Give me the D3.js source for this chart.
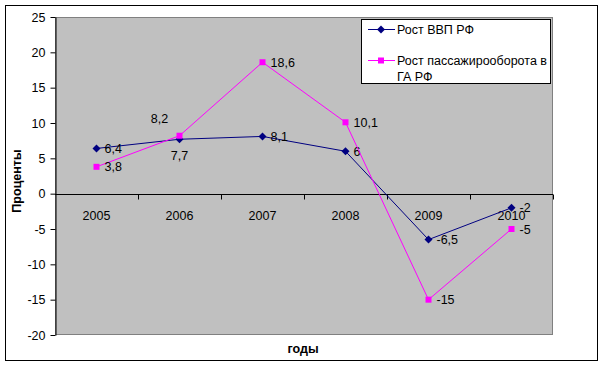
<!DOCTYPE html>
<html><head><meta charset="utf-8">
<script src="https://cdn.jsdelivr.net/npm/d3@7"></script>
<style>body{margin:0;background:#fff}svg{display:block}text{font-family:"Liberation Sans",Arial,sans-serif}</style>
</head><body><svg id="c" width="605" height="367"></svg>
<script>
const years = ["2005","2006","2007","2008","2009","2010"];
const gdp = [6.4, 7.7, 8.1, 6, -6.5, -2];
const pax = [3.8, 8.2, 18.6, 10.1, -15, -5];
const gdpLabelPos = ["r","b","r","r","r","r"];
const paxLabelPos = ["r","tl","r","r","r","r"];
const yTicks = [-20,-15,-10,-5,0,5,10,15,20,25];
const seriesNames = ["Рост ВВП РФ", ["Рост пассажирооборота в","ГА РФ"]];

const svg = d3.select("#c");
const L=55, R=553, T=17, B=335;
svg.append("rect").attr("x",5.5).attr("y",5.5).attr("width",592).attr("height",355).attr("fill","#fff").attr("stroke","#000");
svg.append("rect").attr("x",L+0.5).attr("y",T+0.5).attr("width",R-L-1).attr("height",B-T-1).attr("fill","#C0C0C0").attr("stroke","#808080");

const x = d3.scaleBand().domain(years).range([L,R]);
const y = d3.scaleLinear().domain([-20,25]).range([B,T]);
const cx = d => x(d)+x.bandwidth()/2;

// y axis
const ya = svg.append("g").attr("transform",`translate(${L+0.5},0)`)
  .call(d3.axisLeft(y).tickValues(yTicks).tickSize(5).tickSizeOuter(0).tickFormat(d=>d));
ya.select(".domain").attr("stroke","#000");
ya.selectAll(".tick line").attr("stroke","#000");
ya.selectAll(".tick text").attr("font-size",12.5).attr("font-family","Liberation Sans, Arial").attr("fill","#000").attr("x",-10);

// x axis at zero
const y0 = Math.round(y(0))+0.5;
svg.append("line").attr("x1",L).attr("x2",R).attr("y1",y0).attr("y2",y0).attr("stroke","#000");
const bounds = years.slice(1).map(d=>x(d)).concat([R]);
svg.selectAll(".xt").data(bounds).enter().append("line")
  .attr("x1",d=>Math.round(d)+0.5).attr("x2",d=>Math.round(d)+0.5).attr("y1",y0).attr("y2",y0+5).attr("stroke","#000");
svg.selectAll(".xl").data(years).enter().append("text")
  .attr("x",d=>cx(d)).attr("y",y0+25).attr("text-anchor","middle").attr("font-size",12.5).text(d=>d);

// titles
svg.append("text").attr("transform","translate(21,181) rotate(-90)").attr("text-anchor","middle")
  .attr("font-size",12.5).attr("font-weight","bold").text("Проценты");
svg.append("text").attr("x",303).attr("y",353).attr("text-anchor","middle")
  .attr("font-size",12.5).attr("font-weight","bold").text("годы");

const line = d3.line().x((d,i)=>cx(years[i])).y(d=>y(d));
function drawSeries(vals,color,marker,pos){
  svg.append("path").attr("d",line(vals)).attr("fill","none").attr("stroke",color).attr("stroke-width",1);
  vals.forEach((v,i)=>{
    const px=cx(years[i]), py=y(v);
    if(marker==="d") svg.append("path").attr("d",`M${px},${py-4}L${px+4},${py}L${px},${py+4}L${px-4},${py}Z`).attr("fill",color);
    else svg.append("rect").attr("x",px-3).attr("y",py-3).attr("width",6).attr("height",6).attr("fill",color);
    const lab = String(v).replace(".",",");
    let tx=px+8, ty=py+4.5, anchor="start";
    if(pos[i]==="b"){tx=px; ty=py+21; anchor="middle";}
    if(pos[i]==="tl"){tx=px-20; ty=py-13; anchor="middle";}
    svg.append("text").attr("x",tx).attr("y",ty).attr("text-anchor",anchor).attr("font-size",12.5).attr("fill","#000").text(lab);
  });
}
drawSeries(gdp,"#000080","d",gdpLabelPos);
drawSeries(pax,"#FF00FF","s",paxLabelPos);

// legend
svg.append("rect").attr("x",361.5).attr("y",19.5).attr("width",189).attr("height",64).attr("fill","#fff").attr("stroke","#000");
const lg = svg.append("g");
lg.append("line").attr("x1",368).attr("x2",395).attr("y1",29.5).attr("y2",29.5).attr("stroke","#000080");
lg.append("path").attr("d","M381,25.5L385,29.5L381,33.5L377,29.5Z").attr("fill","#000080");
lg.append("text").attr("x",397).attr("y",34).attr("font-size",12.5).text(seriesNames[0]);
lg.append("line").attr("x1",368).attr("x2",395).attr("y1",60.5).attr("y2",60.5).attr("stroke","#FF00FF");
lg.append("rect").attr("x",378).attr("y",57.5).attr("width",6).attr("height",6).attr("fill","#FF00FF");
lg.append("text").attr("x",397).attr("y",65).attr("font-size",12.5).text(seriesNames[1][0]);
lg.append("text").attr("x",397).attr("y",81).attr("font-size",12.5).text(seriesNames[1][1]);
</script></body></html>
